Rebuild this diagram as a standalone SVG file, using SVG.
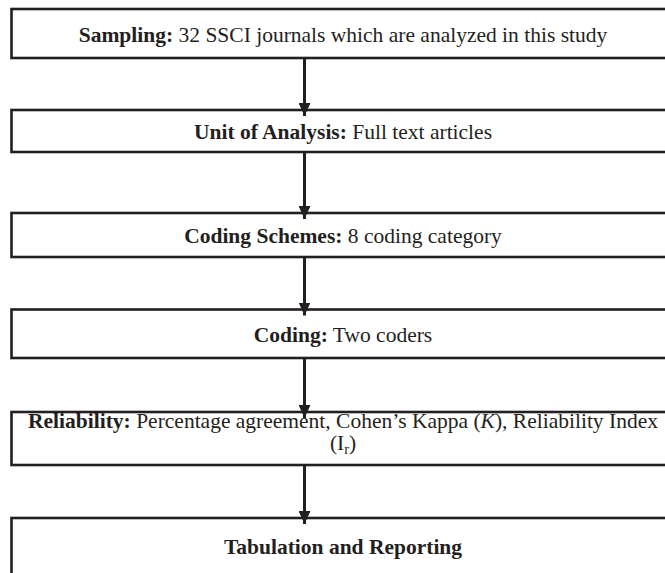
<svg xmlns="http://www.w3.org/2000/svg" width="665" height="573" viewBox="0 0 665 573">
<defs>
<style>
.box{fill:#ffffff;stroke:#231f20;stroke-width:2.6}
.t{font-family:"Liberation Serif","Times New Roman",serif;font-size:21.5px;fill:#231f20;text-anchor:middle}
.b{font-weight:bold}
.i{font-style:italic}
.conn line{stroke:#231f20;stroke-width:3}
</style>
<marker id="ah" markerUnits="userSpaceOnUse" markerWidth="13" markerHeight="12" viewBox="0 0 13 12" refX="13" refY="6" orient="auto">
<path d="M0,0 L13,6 L0,12 Z" fill="#231f20"/>
</marker>
</defs>
<rect width="665" height="573" fill="#ffffff"/>
<g id="sampling">
<rect class="box" x="11.5" y="9" width="664" height="49"/>
<text class="t" x="343" y="41.5"><tspan class="b">Sampling:</tspan> 32 SSCI journals which are analyzed in this study</text>
</g>
<g id="unit">
<rect class="box" x="11.5" y="110" width="664" height="42"/>
<text class="t" x="343" y="139"><tspan class="b">Unit of Analysis:</tspan> Full text articles</text>
</g>
<g id="coding-schemes">
<rect class="box" x="11.5" y="213" width="664" height="44"/>
<text class="t" x="343" y="243"><tspan class="b">Coding Schemes:</tspan> 8 coding category</text>
</g>
<g id="coding">
<rect class="box" x="11.5" y="309.5" width="664" height="48.5"/>
<text class="t" x="343" y="342"><tspan class="b">Coding:</tspan> Two coders</text>
</g>
<g id="reliability">
<rect class="box" x="11.5" y="412" width="664" height="53"/>
<text class="t" x="343" y="428"><tspan class="b">Reliability:</tspan> Percentage agreement, Cohen’s Kappa (<tspan class="i">K</tspan>), Reliability Index</text>
<text class="t" x="343" y="450">(I<tspan font-size="14" dy="4">r</tspan><tspan dy="-4">)</tspan></text>
</g>
<g id="tabulation">
<rect class="box" x="11.5" y="518" width="664" height="70"/>
<text class="t b" x="343" y="554">Tabulation and Reporting</text>
</g>
<g id="connectors" class="conn">
<line x1="304.5" y1="59" x2="304.5" y2="116" marker-end="url(#ah)"/>
<line x1="304.5" y1="153" x2="304.5" y2="219" marker-end="url(#ah)"/>
<line x1="304.5" y1="258" x2="304.5" y2="315.5" marker-end="url(#ah)"/>
<line x1="304.5" y1="359" x2="304.5" y2="418" marker-end="url(#ah)"/>
<line x1="304.5" y1="466" x2="304.5" y2="524" marker-end="url(#ah)"/>
</g>
</svg>
